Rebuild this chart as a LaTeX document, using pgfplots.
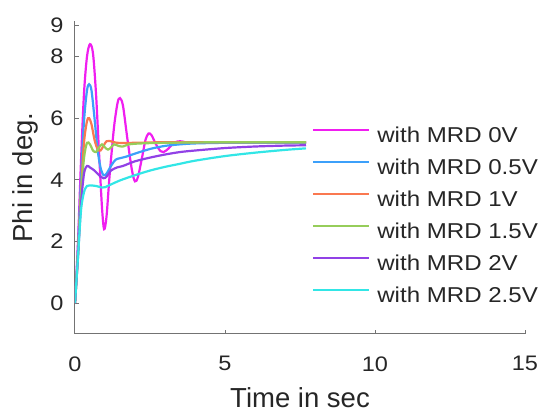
\documentclass[border=0pt]{standalone}
\usepackage{fontspec}
\setmainfont{Liberation Sans}
\newfontfamily\wide[FakeStretch=1.12]{Liberation Sans}
\usepackage{pgfplots}
\pgfplotsset{compat=1.18}
\definecolor{c0}{RGB}{240,30,240}
\definecolor{c1}{RGB}{60,160,250}
\definecolor{c2}{RGB}{250,120,80}
\definecolor{c3}{RGB}{150,205,90}
\definecolor{c4}{RGB}{145,65,230}
\definecolor{c5}{RGB}{50,230,230}
\begin{document}
\begin{tikzpicture}
\path[use as bounding box] (-75pt,-78pt) rectangle (469pt,334pt);
\begin{axis}[
  at={(0pt,0pt)}, anchor=south west,
  scale only axis, width=450pt, height=313pt,
  xmin=0, xmax=15, ymin=-1, ymax=9.15,
  axis lines*=left,
  axis line style={draw=black!55, line width=1pt},
  tick align=inside, major tick length=4pt,
  tick style={black!55, line width=1pt},
  xtick={0,5,10,15}, ytick={0,2,4,6,8,9},
  /pgf/number format/assume math mode=true,
  ticklabel style={font=\wide\fontsize{21}{25}\selectfont, text=black!85},
  xticklabel style={yshift=-19pt},
  yticklabel style={xshift=-8pt},
  xlabel={Time in sec}, ylabel={Phi in deg.},
  label style={font=\fontsize{27.5}{32}\selectfont, text=black!85},
  xlabel style={at={(axis description cs:0.5,-0.203)}, anchor=center},
  ylabel style={at={(axis description cs:-0.111,0.5)}, anchor=center},
  legend style={at={(rel axis cs:0.527,0.664)}, anchor=north west, draw=none, fill=none,
    inner sep=0pt, outer sep=0pt, column sep=7pt, row sep=11pt,
    font=\wide\fontsize{21.5}{25}\selectfont, text=black!85,
    nodes={inner sep=0pt, text height=16pt, text depth=5pt}},
  legend cell align=left,
  legend image code/.code={\draw[#1, line width=2.2pt] (0pt,6.5pt) -- (56pt,6.5pt);},
  every axis plot/.append style={line width=2.2pt, smooth},
]
\addplot[c0] coordinates {(0,0) (0.1,2.0) (0.2,4.6) (0.3,6.8) (0.4,8.0) (0.5,8.4) (0.6,8.1) (0.7,6.8) (0.8,4.9) (0.9,3.1) (0.97,2.4) (1.05,2.8) (1.15,4.1) (1.3,5.7) (1.42,6.5) (1.5,6.65) (1.6,6.4) (1.75,5.3) (1.9,4.3) (2.0,3.95) (2.1,4.1) (2.25,4.8) (2.35,5.3) (2.45,5.5) (2.55,5.45) (2.7,5.15) (2.85,4.93) (2.95,4.9) (3.1,5.0) (3.3,5.2) (3.5,5.25) (3.8,5.2) (4.2,5.2) (5,5.2) (6,5.2) (7.7,5.2)};
\addlegendentry{with MRD 0V}
\addplot[c1] coordinates {(0,0) (0.1,1.8) (0.2,4.0) (0.3,5.9) (0.4,6.9) (0.47,7.1) (0.55,6.9) (0.65,6.0) (0.75,5.0) (0.85,4.4) (0.95,4.15) (1.05,4.2) (1.2,4.45) (1.35,4.65) (1.5,4.7) (1.7,4.75) (2.0,4.85) (2.5,5.0) (3,5.1) (3.5,5.15) (4,5.18) (5,5.2) (6,5.2) (7.7,5.2)};
\addlegendentry{with MRD 0.5V}
\addplot[c2] coordinates {(0,0) (0.1,1.6) (0.2,3.6) (0.3,5.2) (0.4,5.9) (0.47,6.0) (0.55,5.8) (0.65,5.3) (0.75,5.0) (0.85,4.95) (0.95,5.1) (1.05,5.25) (1.2,5.25) (1.4,5.2) (2,5.2) (3,5.22) (5,5.22) (7.7,5.22)};
\addlegendentry{with MRD 1V}
\addplot[c3] coordinates {(0,0) (0.1,1.6) (0.2,3.5) (0.3,4.7) (0.4,5.2) (0.5,5.15) (0.6,4.95) (0.7,4.9) (0.8,5.05) (0.9,5.15) (1.0,5.05) (1.1,4.98) (1.2,5.05) (1.3,5.15) (1.45,5.1) (1.6,5.08) (1.8,5.15) (2.2,5.18) (3,5.2) (5,5.22) (7.7,5.22)};
\addlegendentry{with MRD 1.5V}
\addplot[c4] coordinates {(0,0) (0.1,1.5) (0.2,3.2) (0.3,4.2) (0.4,4.45) (0.5,4.4) (0.65,4.3) (0.8,4.15) (0.95,4.05) (1.05,4.1) (1.2,4.3) (1.4,4.4) (1.6,4.45) (2,4.6) (2.5,4.72) (3,4.82) (3.5,4.9) (4,4.95) (5,5.03) (6,5.08) (7,5.11) (7.7,5.12)};
\addlegendentry{with MRD 2V}
\addplot[c5] coordinates {(0,0) (0.1,1.5) (0.2,3.0) (0.3,3.6) (0.4,3.8) (0.5,3.82) (0.7,3.8) (0.9,3.75) (1.0,3.76) (1.2,3.85) (1.5,3.98) (2,4.15) (2.5,4.3) (3,4.42) (3.5,4.52) (4,4.62) (5,4.77) (6,4.88) (7,4.97) (7.7,5.02)};
\addlegendentry{with MRD 2.5V}
\end{axis}
\end{tikzpicture}
\end{document}
